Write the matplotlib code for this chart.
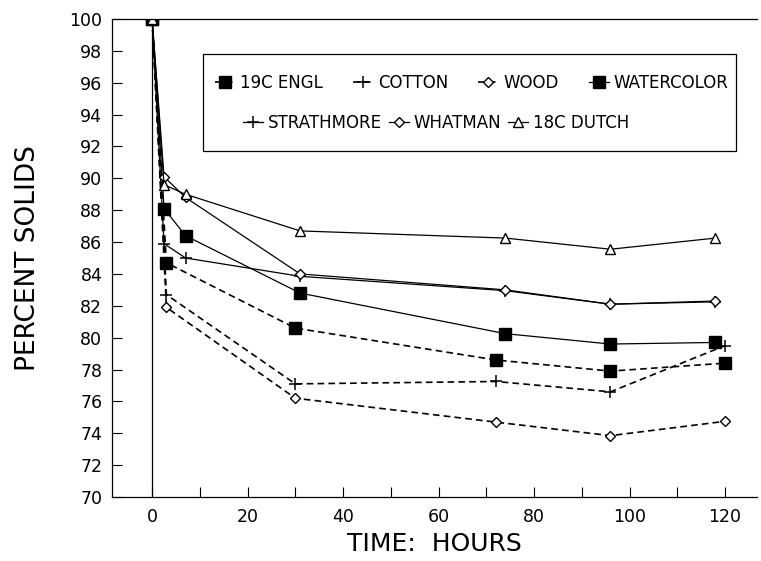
import matplotlib
matplotlib.use("Agg")
import matplotlib.pyplot as plt
from matplotlib.patches import Rectangle
from matplotlib.ticker import MultipleLocator

# dashed series (sampled at these hours)
t_dashed = [0, 3, 30, 72, 96, 120]
engl_19c = [100, 84.7, 80.6, 78.6, 77.9, 78.4]
cotton = [100, 82.7, 77.1, 77.25, 76.6, 79.5]
wood = [100, 81.9, 76.2, 74.7, 73.85, 74.75]

# solid series
t_solid = [0, 2.5, 7, 31, 74, 96, 118]
watercolor = [100, 88.1, 86.4, 82.8, 80.25, 79.6, 79.7]
strathmore = [100, 85.9, 85.0, 83.85, 82.95, 82.1, 82.25]
whatman = [100, 90.1, 88.8, 84.0, 83.0, 82.1, 82.3]
dutch_18c = [100, 89.6, 89.0, 86.7, 86.25, 85.55, 86.25]

fig = plt.figure(figsize=(7.61, 5.61), dpi=100)
ax = fig.add_axes([112 / 761, 1 - 497 / 561, 645 / 761, 478 / 561])

dash = (0, (4, 2.5))
h1, = ax.plot(t_dashed, engl_19c, color='k', ls=dash, lw=1.2, marker='s', ms=8.5,
              mfc='k', label='19C ENGL')
h2, = ax.plot(t_dashed, cotton, color='k', ls=dash, lw=1.2, marker='+', ms=9,
              mew=1.1, label='COTTON')
h3, = ax.plot(t_dashed, wood, color='k', ls=dash, lw=1.2, marker='D', ms=5,
              mfc='white', mew=1.0, label='WOOD')
h4, = ax.plot(t_solid, watercolor, color='k', lw=0.9, marker='s', ms=8.5,
              mfc='k', label='WATERCOLOR')
h5, = ax.plot(t_solid, strathmore, color='k', lw=0.9, marker='+', ms=9,
              mew=1.1, label='STRATHMORE')
h6, = ax.plot(t_solid, whatman, color='k', lw=0.9, marker='D', ms=5,
              mfc='white', mew=1.0, label='WHATMAN')
h7, = ax.plot(t_solid, dutch_18c, color='k', lw=0.9, marker='^', ms=7,
              mfc='white', mew=1.0, label='18C DUTCH')

ax.axvline(0, color='k', lw=0.9, zorder=1)

ax.set_xlim(-8.4, 126.7)
ax.set_ylim(70, 100)
ax.xaxis.set_major_locator(MultipleLocator(20))
ax.xaxis.set_minor_locator(MultipleLocator(10))
ax.yaxis.set_major_locator(MultipleLocator(2))
ax.tick_params(which='both', direction='in', length=7, width=0.8, labelsize=12.5)
ax.tick_params(axis='x', pad=8)
ax.tick_params(axis='y', pad=7)
ax.spines['right'].set_visible(False)
for s in ['left', 'top', 'bottom']:
    ax.spines[s].set_linewidth(0.9)

ax.set_xlabel('TIME:  HOURS', fontsize=18, labelpad=4)
ax.set_ylabel('PERCENT SOLIDS', fontsize=19, labelpad=20)

# legend: framed box with two centred rows
ax.add_patch(Rectangle((91 / 645, (497 - 151) / 478), 533 / 645, 97 / 478,
                       transform=ax.transAxes, fill=False, lw=0.9, zorder=5))
kw = dict(frameon=False, fontsize=12, handlelength=1.2, handletextpad=0.3,
          loc='center', borderaxespad=0)
leg1 = ax.legend(handles=[h1, h2, h3, h4], ncol=4, columnspacing=1.8,
                 bbox_to_anchor=(360 / 645, (497 - 83) / 478), **kw)
ax.add_artist(leg1)
ax.legend(handles=[h5, h6, h7], ncol=3, columnspacing=0.4,
          bbox_to_anchor=(324 / 645, (497 - 123) / 478), **kw)

fig.savefig('out.png', dpi=100)
